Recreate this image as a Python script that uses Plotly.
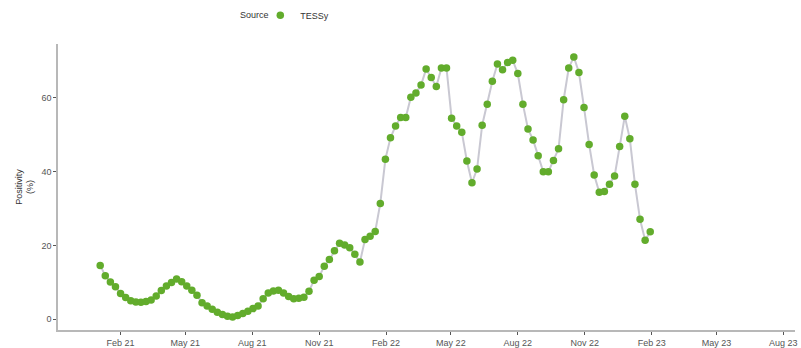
import pandas as pd
import plotly.graph_objects as go

start_date = "2021-01-04"
n_weeks = 109
positivity = [
    14.6, 11.8, 10.1, 8.8, 7.0, 5.9, 5.0, 4.7, 4.6, 4.8,
    5.2, 6.3, 7.8, 9.0, 10.0, 10.9, 10.2, 9.0, 7.9, 6.5,
    4.5, 3.6, 2.7, 1.9, 1.3, 0.8, 0.6, 1.0, 1.6, 2.2,
    2.9, 3.6, 5.6, 7.1, 7.7, 7.9, 7.1, 6.2, 5.6, 5.7,
    6.0, 7.6, 10.6, 11.6, 14.4, 16.2, 18.6, 20.6, 20.1, 19.4,
    17.6, 15.5, 21.6, 22.5, 23.8, 31.4, 43.4, 49.2, 52.4, 54.7,
    54.7, 60.2, 61.3, 63.5, 67.8, 65.5, 63.1, 68.1, 68.1, 54.5,
    52.4, 50.7, 42.9, 37.0, 40.7, 52.6, 58.3, 64.5, 69.2, 67.6,
    69.6, 70.2, 66.6, 58.3, 51.6, 48.6, 44.3, 40.0, 40.0, 43.0,
    46.2, 59.5, 68.1, 71.1, 66.9, 57.4, 47.4, 39.1, 34.4, 34.6,
    36.6, 38.8, 46.8, 55.0, 48.9, 36.6, 27.1, 21.4, 23.7,
]
dates = pd.date_range(start_date, periods=n_weeks, freq="7D")

tick_dates = ["2021-02-01", "2021-05-01", "2021-08-01", "2021-11-01",
              "2022-02-01", "2022-05-01", "2022-08-01", "2022-11-01",
              "2023-02-01", "2023-05-01", "2023-08-01"]
tick_labels = ["Feb 21", "May 21", "Aug 21", "Nov 21", "Feb 22", "May 22",
               "Aug 22", "Nov 22", "Feb 23", "May 23", "Aug 23"]
y_ticks = [0, 20, 40, 60]
source_name = "TESSy"
legend_title = "Source"

green = "#62AC2C"
font = "Liberation Sans"

fig = go.Figure()
fig.add_trace(go.Scatter(
    x=dates, y=positivity, mode="lines",
    line=dict(color="#C9C8D2", width=2), showlegend=False, hoverinfo="skip",
))
fig.add_trace(go.Scatter(
    x=dates, y=positivity, mode="markers", name=source_name,
    marker=dict(color=green, size=7.5),
))

fig.add_annotation(
    text=legend_title, xref="paper", yref="paper",
    x=0.267, y=1.101, xanchor="center", yanchor="middle",
    showarrow=False, font=dict(size=9, color="#333333"),
)

fig.update_layout(
    width=801, height=348,
    margin=dict(l=58, r=6, t=44, b=18, autoexpand=False),
    plot_bgcolor="white", paper_bgcolor="white",
    font=dict(family=font, size=9, color="#444444"),
    legend=dict(
        orientation="h", x=0.2745, xanchor="left", y=1.1005, yanchor="middle",
        font=dict(size=9, color="#333333"), itemwidth=30,
        bgcolor="rgba(0,0,0,0)",
    ),
    xaxis=dict(
        range=["2020-11-07", "2023-08-17"],
        tickvals=tick_dates, ticktext=tick_labels,
        showgrid=False, zeroline=False,
        showline=True, linecolor="#B8B8B8", linewidth=1.5,
        ticks="outside", ticklen=3, tickcolor="#555555", tickwidth=1,
        tickfont=dict(size=9, color="#555555"), automargin=False,
    ),
    yaxis=dict(
        range=[-2.9, 74.6],
        tickvals=y_ticks,
        showgrid=False, zeroline=False,
        showline=True, linecolor="#B8B8B8", linewidth=1.5,
        ticks="outside", ticklen=3, tickcolor="#555555", tickwidth=1,
        tickfont=dict(size=9, color="#555555"), automargin=False,
        title=dict(text="Positivity<br>(%)", font=dict(size=9, color="#333333"),
                   standoff=6),
    ),
)

fig.write_html("out.html")
